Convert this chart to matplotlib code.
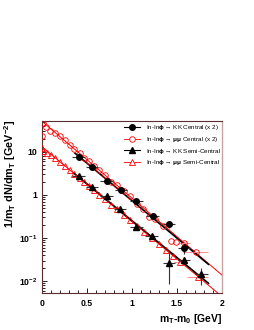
import numpy as np
import matplotlib
matplotlib.use("Agg")
import matplotlib.pyplot as plt
from matplotlib.lines import Line2D
from matplotlib.ticker import FixedLocator, MultipleLocator, LogLocator, NullFormatter

# === FONTS (ROOT-like bold Helvetica) ===
plt.rcParams['font.family'] = ['Liberation Sans', 'DejaVu Sans']
plt.rcParams['font.weight'] = 'bold'
plt.rcParams['mathtext.fontset'] = 'custom'
plt.rcParams['mathtext.rm'] = 'Liberation Sans:bold'
plt.rcParams['mathtext.bf'] = 'Liberation Sans:bold'
plt.rcParams['mathtext.it'] = 'Liberation Sans:bold'
plt.rcParams['mathtext.default'] = 'rm'

# === DATA ===
# phi -> KK central (x 2)
kk_c_x = [0.41, 0.56, 0.72, 0.88, 1.05, 1.23, 1.41, 1.58]
kk_c_y = [7.8, 4.4, 2.08, 1.31, 0.725, 0.33, 0.21, 0.058]
kk_c_xerr = [0.07, 0.07, 0.07, 0.07, 0.07, 0.07, 0.07, 0.07]
kk_c_yerr = [0.4, 0.3, 0.2, 0.12, 0.06, 0.04, 0.04, 0.015]

# phi -> KK semi-central
kk_s_x = [0.41, 0.56, 0.72, 0.87, 1.05, 1.22, 1.41, 1.58, 1.77]
kk_s_y = [2.7, 1.53, 0.95, 0.47, 0.18, 0.111, 0.026, 0.031, 0.0145]
kk_s_xerr = [0.07, 0.07, 0.07, 0.07, 0.07, 0.07, 0.07, 0.07, 0.07]
kk_s_yerr_lo = [0.15, 0.1, 0.07, 0.04, 0.02, 0.015, 0.0174, 0.006, 0.0065]
kk_s_yerr_hi = [0.15, 0.1, 0.07, 0.04, 0.02, 0.015, 0.019, 0.006, 0.0055]

# phi -> mumu central (x 2)
mm_c_x = [0.005, 0.015, 0.045, 0.09, 0.145, 0.20, 0.26, 0.31, 0.36, 0.42, 0.47, 0.53,
          0.58, 0.64, 0.70, 0.77, 0.84, 0.91, 0.98, 1.06, 1.12, 1.19, 1.26, 1.34,
          1.43, 1.49, 1.58, 1.71]
mm_c_y = [23.5, 46, 37.5, 31, 27, 23, 19, 14.5, 11.8, 9.6, 7.2, 6.0,
          4.6, 3.8, 2.9, 2.05, 1.7, 1.25, 0.95, 0.62, 0.48, 0.30, 0.27, 0.19,
          0.085, 0.082, 0.075, 0.048]
mm_c_xerr = [0] * 26 + [0.07, 0.14]

# phi -> mumu semi-central
mm_s_x = [0.005, 0.02, 0.06, 0.10, 0.15, 0.20, 0.26, 0.31, 0.36, 0.42, 0.47, 0.53,
          0.58, 0.64, 0.70, 0.77, 0.84, 0.91, 0.98, 1.06, 1.14, 1.22, 1.30, 1.38,
          1.46, 1.53, 1.73]
mm_s_y = [12.2, 10.3, 9.2, 8.6, 7.2, 5.9, 4.8, 3.7, 3.1, 2.45, 1.95, 1.6,
          1.3, 1.0, 0.82, 0.60, 0.46, 0.34, 0.26, 0.19, 0.14, 0.10, 0.073, 0.054,
          0.038, 0.028, 0.0126]
mm_s_xerr = [0] * 25 + [0.06, 0.12]

# exponential fits (straight on log scale): end points
fit_kk_c_x = [0.37, 1.85]
fit_kk_c_y = [9.3, 0.0245]
fit_kk_s_x = [0.357, 1.85]
fit_kk_s_y = [3.2, 0.0089]
fit_mm_c_x = [0.0, 2.0]
fit_mm_c_y = [52, 0.0138]
fit_mm_s_x = [0.0, 2.0]
fit_mm_s_y = [13.3, 0.0044]

labels = [r'In-In$\phi$ → KK Central (x 2)',
          r'In-In$\phi$ → $\mu\mu$ Central (x 2)',
          r'In-In$\phi$ → KK Semi-Central',
          r'In-In$\phi$ → $\mu\mu$ Semi-Central']

ytick_vals = [0.01, 0.1, 1, 10]
ytick_labels = [r'$10^{-2}$', r'$10^{-1}$', '1', '10']
xtick_vals = [0, 0.5, 1, 1.5, 2]
xtick_labels = ['0', '0.5', '1', '1.5', '2']

# === FIGURE ===
fig = plt.figure(figsize=(2.55, 3.3), dpi=100)
ax = fig.add_axes([0.1635, 0.1121, 0.7071, 0.5212])
ax.set_yscale('log')

red = '#ff0000'
pink = '#ff8a8a'

# fits
ax.plot(fit_mm_c_x, fit_mm_c_y, color=red, lw=0.7, zorder=2)
ax.plot(fit_mm_s_x, fit_mm_s_y, color=red, lw=0.7, zorder=2)
ax.plot(fit_kk_c_x, fit_kk_c_y, color='black', lw=1.2, zorder=3)
ax.plot(fit_kk_s_x, fit_kk_s_y, color='black', lw=1.2, zorder=3)

# mumu data
ax.errorbar(mm_c_x, mm_c_y, xerr=mm_c_xerr, fmt='o', ms=4, mfc='none', mec=red,
            mew=0.6, ecolor=pink, elinewidth=0.7, capsize=0, zorder=4)
ax.errorbar(mm_s_x, mm_s_y, xerr=mm_s_xerr, fmt='^', ms=4, mfc='none', mec=red,
            mew=0.6, ecolor=pink, elinewidth=0.7, capsize=0, zorder=4)

# KK data
ax.errorbar(kk_c_x, kk_c_y, xerr=kk_c_xerr, yerr=kk_c_yerr, fmt='o', ms=4,
            color='black', ecolor='#333333', elinewidth=0.8, capsize=0, zorder=5)
ax.errorbar(kk_s_x, kk_s_y, xerr=kk_s_xerr, yerr=[kk_s_yerr_lo, kk_s_yerr_hi],
            fmt='^', ms=4, color='black', ecolor='#333333', elinewidth=0.8,
            capsize=0, zorder=5)

ax.set_xlim(0, 2)
ax.set_ylim(0.0053, 52)

# ticks
ax.xaxis.set_major_locator(FixedLocator(xtick_vals))
ax.set_xticklabels(xtick_labels)
ax.xaxis.set_minor_locator(MultipleLocator(0.1))
ax.yaxis.set_major_locator(FixedLocator(ytick_vals))
ax.set_yticklabels(ytick_labels)
ax.yaxis.set_minor_locator(LogLocator(base=10, subs=np.arange(2, 10)))
ax.yaxis.set_minor_formatter(NullFormatter())
ax.tick_params(which='both', direction='in', top=False, right=False, width=0.6,
               labelsize=6.2, colors='black')
ax.tick_params(which='major', length=3.8)
ax.tick_params(which='minor', length=1.9)
ax.tick_params(axis='x', pad=4)
ax.tick_params(axis='y', pad=3)

for side in ['left', 'bottom', 'top']:
    ax.spines[side].set_color('#5a2e2e')
    ax.spines[side].set_linewidth(0.8)
ax.spines['right'].set_color('#c8a4a4')
ax.spines['right'].set_linewidth(1.0)

# axis titles
fig.text(222 / 255, 1 - 319 / 330, r'm$_{T}$-m$_{0}$ [GeV]', ha='right',
         va='center', fontsize=7.5)
fig.text(10 / 255, 1 - 120 / 330, r'1/m$_{T}$ dN/dm$_{T}$ [GeV$^{-2}$]',
         rotation=90, ha='center', va='top', fontsize=7.8)

# legend
handles = [
    Line2D([], [], color='black', marker='o', ms=4, lw=0.8),
    Line2D([], [], color=red, marker='o', ms=4, mfc='white', lw=0.6, mew=0.6),
    Line2D([], [], color='black', marker='^', ms=4, lw=0.8),
    Line2D([], [], color=red, marker='^', ms=4, mfc='white', lw=0.6, mew=0.6),
]
leg = fig.legend(handles, labels, loc='upper left',
                 bbox_to_anchor=(124 / 255, 1 - 123 / 330),
                 fontsize=4.5, frameon=False, borderpad=0, borderaxespad=0,
                 handlelength=2.6, handletextpad=0.9, labelspacing=0.45)
for t in leg.get_texts():
    t.set_fontweight('normal')

fig.savefig('out.png', dpi=100)
